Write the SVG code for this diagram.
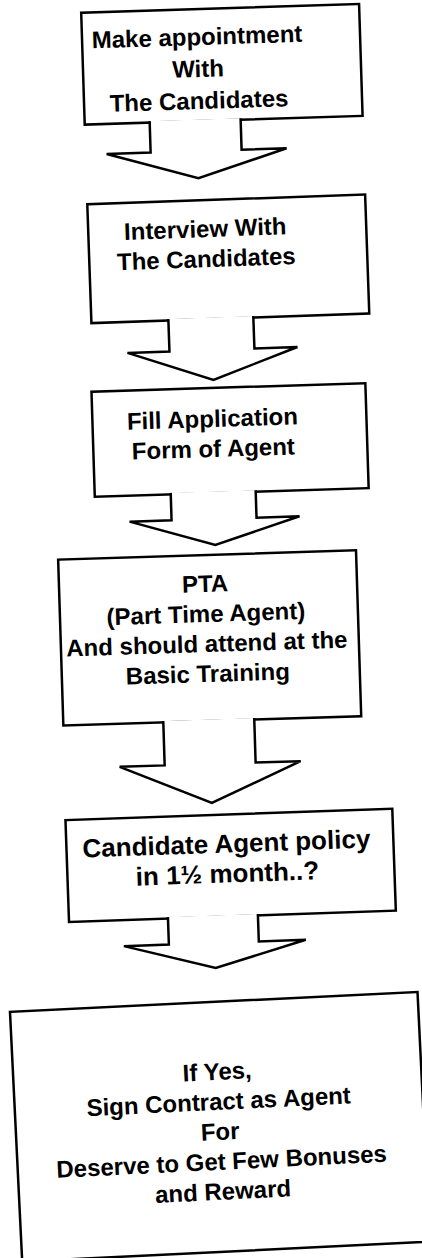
<svg xmlns="http://www.w3.org/2000/svg" width="422" height="1258" viewBox="0 0 422 1258">
<style>
.box{fill:#fff;stroke:#000;stroke-width:2.5}
.arr{fill:#fff;stroke:#000;stroke-width:2.5}
text{font-family:"Liberation Sans",Arial,sans-serif;font-weight:bold;font-size:24px;fill:#000;text-anchor:middle}
</style>
<rect width="422" height="1258" fill="#fff"/>
<g id="n1" transform="rotate(-1.8 200 100)">
<rect class="box" x="84" y="9" width="278" height="112"/>
<text x="199" y="45">Make appointment</text>
<text x="199" y="77">With</text>
<text x="199" y="109">The Candidates</text>
</g>
<g id="n2" transform="rotate(-2 210 280)">
<rect class="box" x="90" y="200" width="278" height="119"/>
<text x="207" y="237">Interview With</text>
<text x="207" y="267">The Candidates</text>
</g>
<g id="n3" transform="rotate(-1.8 213 470)">
<rect class="box" x="94" y="388" width="274" height="105"/>
<text x="214" y="427">Fill Application</text>
<text x="214" y="457">Form of Agent</text>
</g>
<g id="n4" transform="rotate(-1.8 208 680)">
<rect class="box" x="62" y="555" width="298" height="166"/>
<text x="208" y="592">PTA</text>
<text x="208" y="622">(Part Time Agent)</text>
<text x="208" y="652">And should attend at the</text>
<text x="208" y="682">Basic Training</text>
</g>
<g id="n5" transform="rotate(-2 213 890)">
<rect class="box" x="68" y="815" width="327" height="102"/>
<text x="228" y="853" style="font-size:26px">Candidate Agent policy</text>
<text x="228" y="883" style="font-size:26px">in 1½ month..?</text>
</g>
<g id="n6" transform="rotate(-2.8 215 1130)">
<rect class="box" x="16" y="1002" width="408" height="250"/>
<text x="220" y="1080">If Yes,</text>
<text x="220" y="1110">Sign Contract as Agent</text>
<text x="220" y="1140">For</text>
<text x="220" y="1170">Deserve to Get Few Bonuses</text>
<text x="220" y="1200">and Reward</text>
</g>
<g id="connectors">
<path class="arr" transform="rotate(-1.8 200 100)" d="M149 119.5 V151 H105 L196 178 L285 151 H240 V119.5"/>
<path class="arr" transform="rotate(-2 210 280)" d="M167 317.5 V350 H125 L210 380 L295 350 H252 V317.5"/>
<path class="arr" transform="rotate(-1.8 213 470)" d="M170 491.5 V519 H128 L213 545 L298 519 H255 V491.5"/>
<path class="arr" transform="rotate(-1.8 208 680)" d="M162 719.5 V764 H117 L208 803 L298 764 H253 V719.5"/>
<path class="arr" transform="rotate(-2 213 890)" d="M167 915.5 V943 H122 L213 968 L304 943 H257 V915.5"/>
</g>
</svg>
